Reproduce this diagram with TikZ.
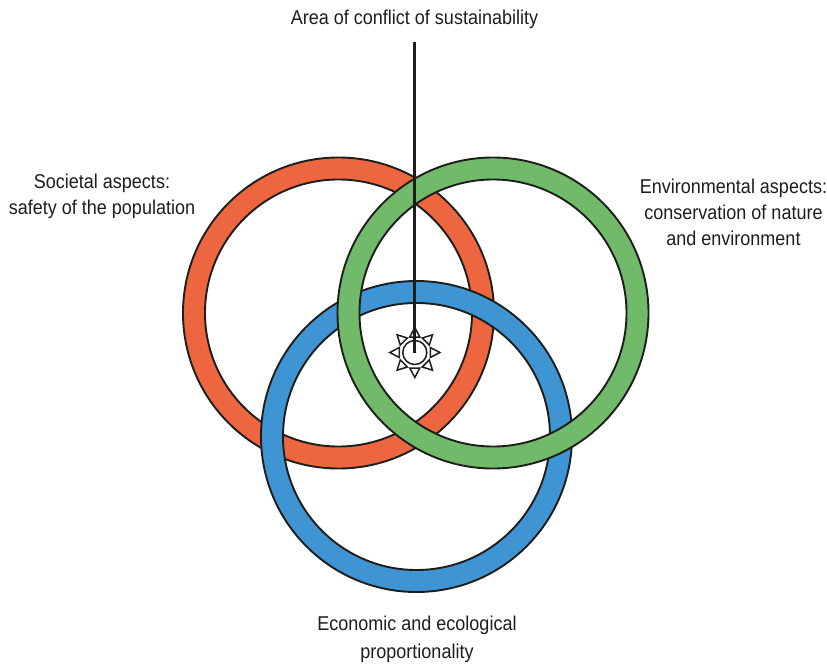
\documentclass[tikz,border=0pt]{standalone}
\usepackage{fontspec}
\setmainfont[FakeStretch=0.90]{Liberation Sans}
\definecolor{ringred}{HTML}{EE6640}
\definecolor{ringgreen}{HTML}{70BA69}
\definecolor{ringblue}{HTML}{3F94D4}
\definecolor{inkc}{HTML}{1D1D1B}
\tikzset{
  ring/.style={draw=inkc,line width=1.9pt,even odd rule},
  lab/.style={font=\fontsize{20pt}{26pt}\selectfont,text=inkc,align=center,inner sep=0pt},
  ray/.style={draw=inkc,line width=1.5pt,fill=white,line join=miter},
  pointer/.style={draw=inkc,line width=2.5pt}
}
\begin{document}
\begin{tikzpicture}[x=1pt,y=-1pt]
\useasboundingbox (0,0) rectangle (827,664);
\def\Ro{155.5}\def\Ri{133.5}
% red ring
\path[ring,fill=ringred] (338.5,313) circle[radius=\Ro] (338.5,313) circle[radius=\Ri];
% blue ring
\path[ring,fill=ringblue] (416.5,436.5) circle[radius=\Ro] (416.5,436.5) circle[radius=\Ri];
% green ring
\path[ring,fill=ringgreen] (493,313) circle[radius=\Ro] (493,313) circle[radius=\Ri];
% sun
\foreach \a in {0,45,...,315}{
  \begin{scope}[shift={(414.8,352.5)},rotate=\a]
    \path[ray] (15.5,-5) -- (25,0) -- (15.5,5) -- cycle;
  \end{scope}
}
\node[circle,draw=inkc,line width=1.5pt,fill=white,minimum size=24pt,inner sep=0pt] (sun) at (414.8,352.5) {};
% labels
\node[lab] (conflict) at (414.5,19) {Area of conflict of sustainability};
\node[lab] (societal) at (102,196) {Societal aspects:\\safety of the population};
\node[lab] (environ) at (733.5,212) {Environmental aspects:\\conservation of nature\\and environment};
\node[lab] (econ) at (417,639.5) {Economic and ecological\\[2pt]proportionality};
\coordinate (top) at (414.5,42);
\draw[pointer] (top) -- (top |- sun.center);
\end{tikzpicture}
\end{document}
